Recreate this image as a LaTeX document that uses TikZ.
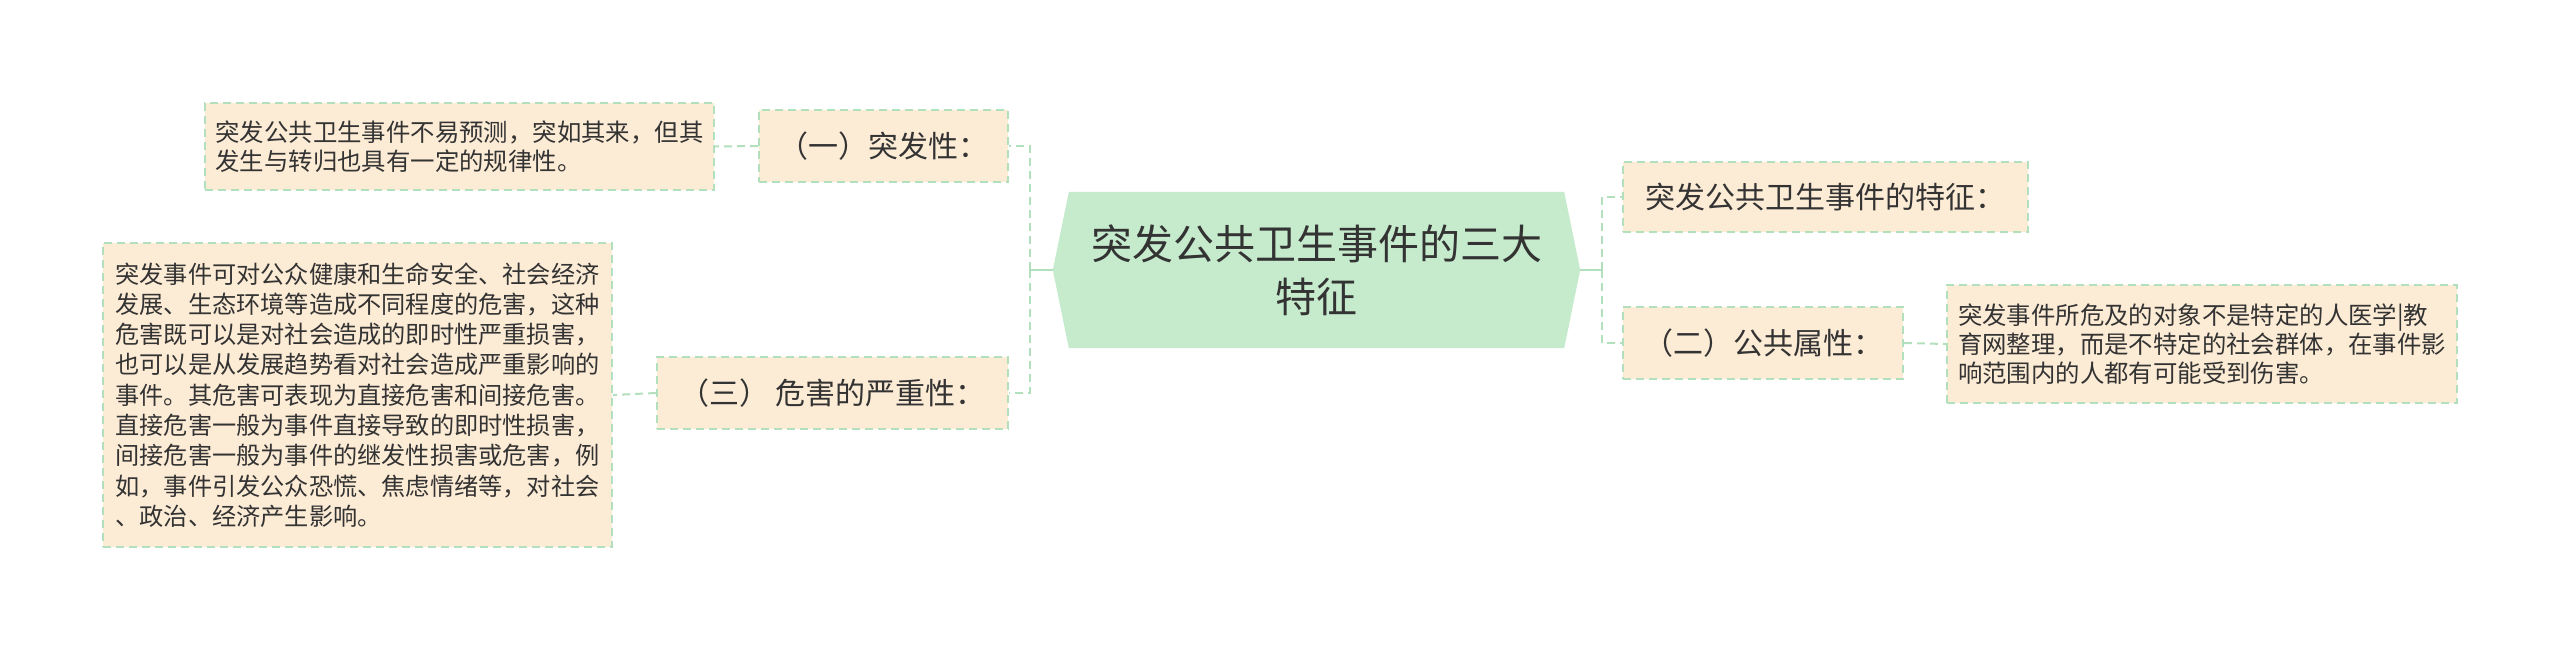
\documentclass[tikz,border=0pt]{standalone}
\usepackage{fontspec}
\setmainfont{Noto Sans CJK SC}
\usetikzlibrary{backgrounds}
\definecolor{leaffill}{HTML}{FCEBD5}
\definecolor{edgegreen}{HTML}{B2DFBC}
\definecolor{centerfill}{HTML}{C6EBCC}
\definecolor{txt}{HTML}{333333}
\tikzset{
  box/.style={draw=edgegreen, line width=2pt, dash pattern=on 8pt off 5pt, fill=leaffill, inner sep=0pt, text=txt},
  lvl/.style={box, font=\fontsize{30}{36}\selectfont, align=center},
  leaf/.style={box, font=\fontsize{24.4}{29.5}\selectfont, align=left},
  conn/.style={draw=edgegreen, line width=2pt},
  dconn/.style={conn, dash pattern=on 8pt off 5pt},
}
\begin{document}
\begin{tikzpicture}[x=1pt,y=-1pt]
\useasboundingbox (0,0) rectangle (2560,650);
% central topic
\node[inner sep=0pt, minimum width=527, minimum height=156, text=txt, align=center,
      font=\fontsize{41}{53}\selectfont] (c) at (1316.5,270) {突发公共卫生事件的三大\\特征};
\begin{scope}[on background layer]
  \fill[centerfill] (c.west) -- ([xshift=16pt]c.north west) -- ([xshift=-16pt]c.north east)
    -- (c.east) -- ([xshift=-16pt]c.south east) -- ([xshift=16pt]c.south west) -- cycle;
\end{scope}
% level-1 nodes
\node[lvl, minimum width=249, minimum height=72] (n1) at (883.5,146) {（一）突发性：};
\node[lvl, minimum width=351, minimum height=72] (n3) at (832.5,393) {（三） 危害的严重性：};
\node[lvl, minimum width=405, minimum height=70] (r1) at (1825.5,197) {突发公共卫生事件的特征：};
\node[lvl, minimum width=280, minimum height=72] (r2) at (1763,343) {（二）公共属性：};
% leaves
\node[leaf, minimum width=509, minimum height=87] (l1) at (459.5,146.5)
  {突发公共卫生事件不易预测，突如其来，但其\\发生与转归也具有一定的规律性。};
\node[leaf, minimum width=509, minimum height=304, font=\fontsize{24.2}{30.3}\selectfont] (l3) at (357.5,395)
  {突发事件可对公众健康和生命安全、社会经济\\
   发展、生态环境等造成不同程度的危害，这种\\
   危害既可以是对社会造成的即时性严重损害，\\
   也可以是从发展趋势看对社会造成严重影响的\\
   事件。其危害可表现为直接危害和间接危害。\\
   直接危害一般为事件直接导致的即时性损害，\\
   间接危害一般为事件的继发性损害或危害，例\\
   如，事件引发公众恐慌、焦虑情绪等，对社会\\
   、政治、经济产生影响。};
\node[leaf, minimum width=510, minimum height=118, font=\fontsize{24.4}{29}\selectfont] (rl) at (2202,344)
  {突发事件所危及的对象不是特定的人医学|教\\
   育网整理，而是不特定的社会群体，在事件影\\
   响范围内的人都有可能受到伤害。};
% connectors
\coordinate (cl) at ([xshift=-23pt]c.west);
\coordinate (cr) at ([xshift=22pt]c.east);
\draw[conn] (c.west) -- (cl);
\draw[conn] (c.east) -- (cr);
\draw[dconn] (cl) |- (n1.east);
\draw[dconn] (cl) |- (n3.east);
\draw[dconn] (cr) |- (r1.west);
\draw[dconn] (cr) |- (r2.west);
\draw[dconn] (n1.west) -- (l1.east);
\draw[dconn] (n3.west) -- (l3.east);
\draw[dconn] (r2.east) -- (rl.west);
\end{tikzpicture}
\end{document}
